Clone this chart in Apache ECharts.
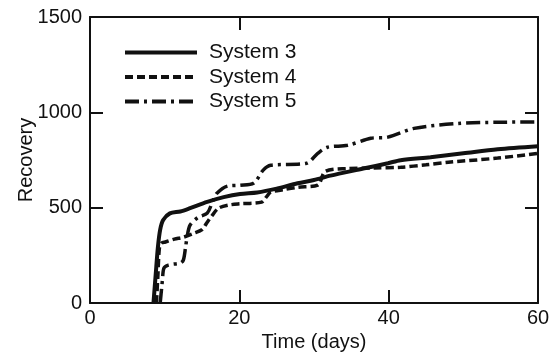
<!DOCTYPE html>
<html>
<head>
<meta charset="utf-8">
<script src="https://cdn.jsdelivr.net/npm/echarts@6/dist/echarts.min.js"></script>
<style>
html,body{margin:0;padding:0;background:#fff;}
#chart{width:556px;height:353px;}
</style>
</head>
<body>
<div id="chart"></div>
<script>
var seriesNames = ['System 3', 'System 4', 'System 5'];
var xTicks = [0, 20, 40, 60];
var yTicks = [0, 500, 1000, 1500];

var sys3Days   = [8.5, 8.8, 9.1, 9.4, 9.8, 10.7, 12.1, 13.4, 15.7, 17.9, 20.1, 22.4, 25, 27.8, 30, 32.2, 36.6, 39.9, 41.6, 45.6, 50, 54.6, 60];
var sys3Values = [0, 150, 295, 385, 435, 470, 480, 497, 530, 555, 572, 580, 600, 628, 645, 668, 705, 733, 749, 765, 785, 806, 822];

var sys4Days   = [8.9, 9.1, 9.3, 9.6, 10.1, 11.3, 12.5, 13.9, 15, 15.7, 16.4, 17.2, 18.5, 20, 23, 23.6, 24.2, 26, 27.8, 30.5, 31.5, 34.5, 38, 41.6, 45, 48, 54.6, 60];
var sys4Values = [0, 150, 290, 315, 320, 335, 345, 366, 385, 424, 461, 497, 513, 520, 529, 555, 581, 595, 607, 618, 690, 705, 708, 712, 725, 738, 760, 785];

var sys5Days   = [9.4, 9.6, 9.7, 9.9, 10.5, 12.1, 12.5, 12.8, 13, 13.4, 14.5, 15.7, 16.5, 17, 18.4, 20.1, 21.9, 23.2, 24.2, 29, 30.5, 31.8, 34.5, 37.6, 39.9, 43.4, 49.3, 55, 60];
var sys5Values = [0, 80, 120, 183, 199, 210, 225, 293, 345, 408, 450, 471, 540, 576, 613, 618, 628, 697, 722, 733, 785, 817, 827, 864, 870, 916, 942, 948, 950];

function pairs(xs, ys) { return xs.map(function (x, i) { return [x, ys[i]]; }); }

var FONT = '"Liberation Sans", Arial, Helvetica, sans-serif';
var INK = '#111';

var chart = echarts.init(document.getElementById('chart'), null, {renderer: 'canvas'});
var lineStyles = [
  {width: 4, type: 'solid'},
  {width: 3.5, type: [8, 4]},
  {width: 3.5, type: [14, 5, 3, 5]}
];
var dataSets = [pairs(sys3Days, sys3Values), pairs(sys4Days, sys4Values), pairs(sys5Days, sys5Values)];
function plain(v) { return String(v); }

chart.setOption({
  animation: false,
  backgroundColor: '#fff',
  textStyle: {fontFamily: FONT, color: INK},
  grid: {left: 90, top: 17, width: 448, height: 286, containLabel: false, outerBoundsMode: 'none'},
  legend: {
    left: 123, top: 42, orient: 'vertical', padding: 0,
    itemWidth: 72, itemHeight: 20, itemGap: 3.5,
    data: seriesNames.map(function (n, i) {
      return {name: n, lineStyle: {width: 4, color: INK, type: lineStyles[i].type}};
    }),
    itemStyle: {color: 'rgba(0,0,0,0)', opacity: 0, borderWidth: 0},
    textStyle: {fontFamily: FONT, fontSize: 21, color: INK, lineHeight: 20, padding: [0, 0, 0, 7]}
  },
  xAxis: [{
    type: 'value', min: xTicks[0], max: xTicks[xTicks.length - 1], interval: 20,
    name: 'Time (days)', nameLocation: 'middle', nameGap: 28,
    nameTextStyle: {fontFamily: FONT, fontSize: 20, color: INK},
    axisLine: {show: true, onZero: false, lineStyle: {color: INK, width: 2}},
    axisTick: {show: true, inside: true, length: 13, lineStyle: {color: INK, width: 2}},
    axisLabel: {fontFamily: FONT, fontSize: 20, color: INK, margin: 5, formatter: plain},
    splitLine: {show: false}
  }, {
    type: 'value', position: 'top', min: xTicks[0], max: xTicks[xTicks.length - 1], interval: 20,
    axisLine: {show: true, onZero: false, lineStyle: {color: INK, width: 2}},
    axisTick: {show: true, inside: true, length: 13, lineStyle: {color: INK, width: 2}},
    axisLabel: {show: false}, splitLine: {show: false}
  }],
  yAxis: [{
    type: 'value', min: yTicks[0], max: yTicks[yTicks.length - 1], interval: 500,
    name: 'Recovery', nameLocation: 'middle', nameGap: 54, nameRotate: 90, nameMoveOverlap: false,
    nameTextStyle: {fontFamily: FONT, fontSize: 20, color: INK},
    axisLine: {show: true, onZero: false, lineStyle: {color: INK, width: 2}},
    axisTick: {show: true, inside: true, length: 13, lineStyle: {color: INK, width: 2}},
    axisLabel: {fontFamily: FONT, fontSize: 20, color: INK, margin: 8, formatter: plain},
    splitLine: {show: false}
  }, {
    type: 'value', position: 'right', min: yTicks[0], max: yTicks[yTicks.length - 1], interval: 500,
    axisLine: {show: true, onZero: false, lineStyle: {color: INK, width: 2}},
    axisTick: {show: true, inside: true, length: 13, lineStyle: {color: INK, width: 2}},
    axisLabel: {show: false}, splitLine: {show: false}
  }],
  series: seriesNames.map(function (n, i) {
    return {
      name: n, type: 'line', xAxisIndex: 0, yAxisIndex: 0,
      data: dataSets[i], showSymbol: false, symbol: 'none', smooth: 0.3,
      itemStyle: {color: INK},
      lineStyle: {color: INK, width: lineStyles[i].width, type: lineStyles[i].type}
    };
  })
});
</script>
</body>
</html>
